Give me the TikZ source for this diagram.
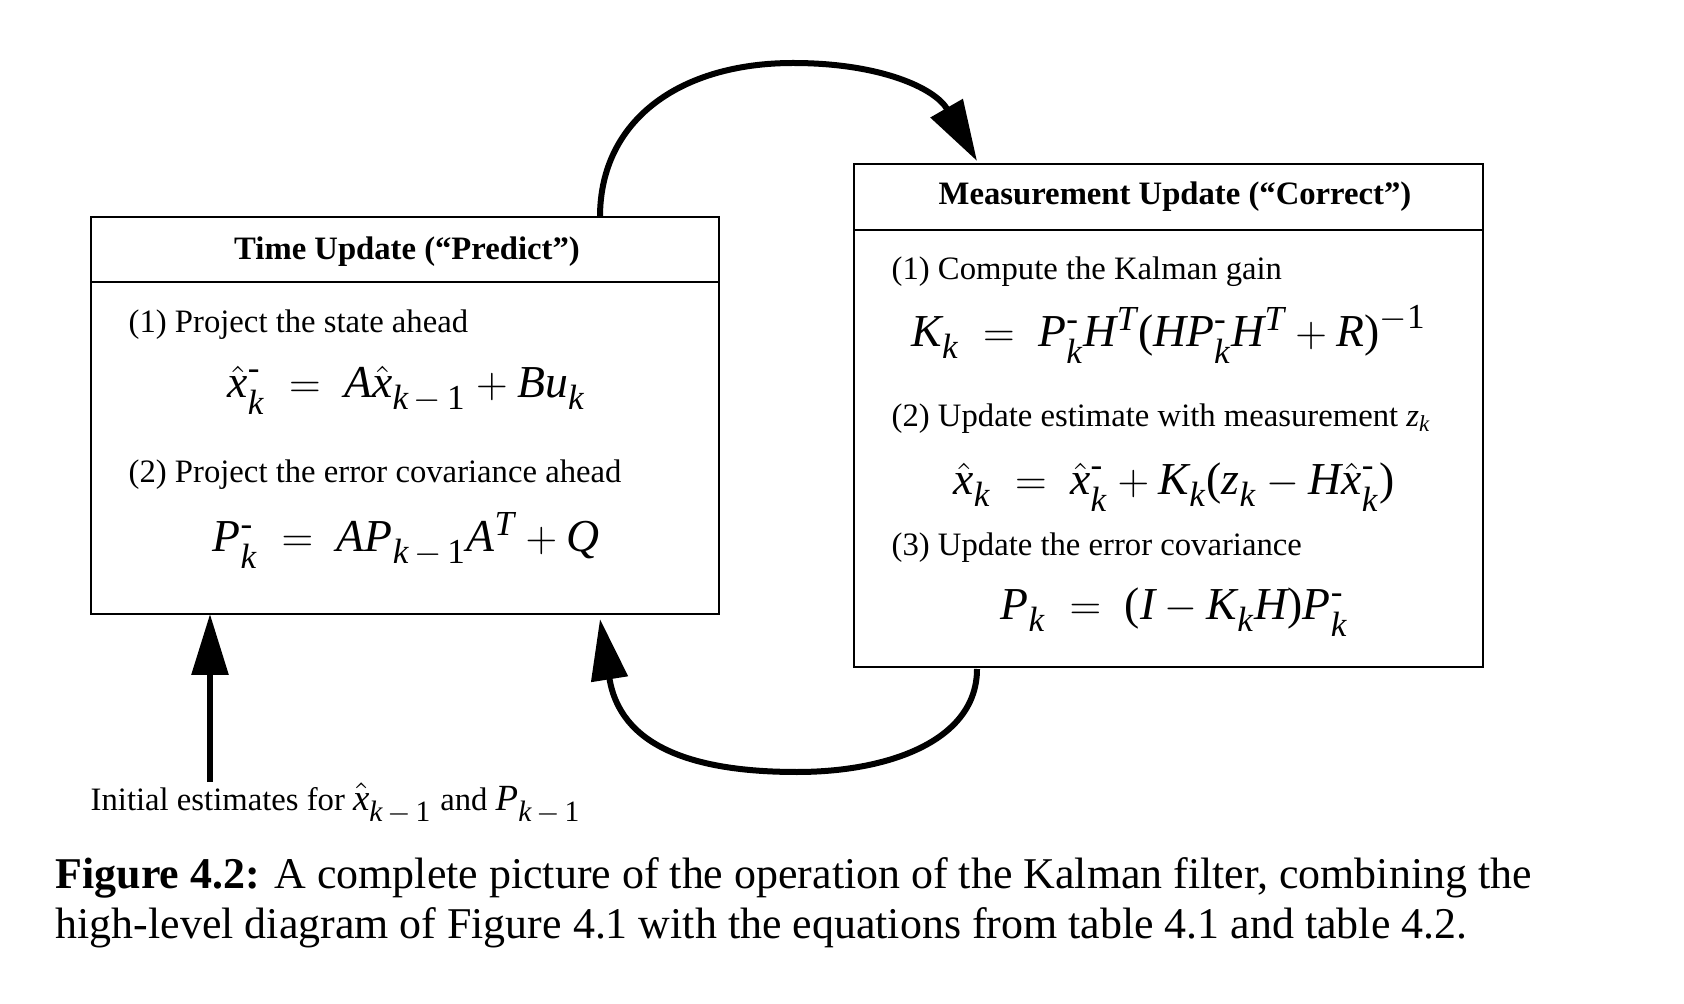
\documentclass[tikz,border=0pt]{standalone}
\usepackage{amsmath}
\usepackage{fontspec}
\setmainfont{Liberation Serif}
\usetikzlibrary{arrows.meta,calc}
\DeclareMathSizes{13}{13}{10}{8}
\DeclareMathSizes{10.5}{10.5}{8.4}{6}
\newcommand\mv[1]{\text{\normalfont\itshape #1}}
\newcommand\mn[1]{\text{\normalfont #1}}
\newcommand\sm{\text{\normalfont -}}
\newcommand\dsub[1]{_{\lower1.6pt\hbox{$\scriptstyle #1$}}}
\newcommand\km{\mv{k}\,{-}\,\mn{1}}
\begin{document}
\begin{tikzpicture}[x=0.1mm,y=-0.1mm,
  boxstyle/.style={draw, line width=0.2mm, inner sep=0pt, outer sep=0pt},
  txt/.style={anchor=base west, inner sep=0pt, font=\fontsize{9.3}{11}\selectfont},
  hdr/.style={anchor=base, inner sep=0pt, font=\fontsize{9.3}{11}\selectfont\bfseries},
  eqn/.style={anchor=base west, inner sep=0pt, font=\fontsize{13}{15}\selectfont},
  captxt/.style={anchor=base west, inner sep=0pt, font=\fontsize{12.5}{14}\selectfont},
  flow/.style={line width=0.6mm, -{Triangle[length=6.1mm, width=3.6mm]}}]
\useasboundingbox (0,0) rectangle (1684,1004);

% boxes
\node[boxstyle, minimum width=62.8mm, minimum height=39.7mm] (tu) at (405,415.5) {};
\node[boxstyle, minimum width=62.9mm, minimum height=50.3mm] (mu) at (1168.5,415.5) {};
\draw[line width=0.2mm] ($(tu.north west)+(0,65)$) -- ($(tu.north east)+(0,65)$);
\draw[line width=0.2mm] ($(mu.north west)+(0,66)$) -- ($(mu.north east)+(0,66)$);

% time update
\node[hdr] (tuh) at (407,260) {Time Update (“Predict”)};
\node[txt] (t1) at (128,333) {(1) Project the state ahead};
\node[eqn] (e1) at (227,398) {$\hat{\mv{x}}^{\sm}\dsub{\mv{k}} \;=\; \mv{A}\hat{\mv{x}}\dsub{\km} + \mv{B}\mv{u}\dsub{\mv{k}}$};
\node[txt] (t2) at (128,483) {(2) Project the error covariance ahead};
\node[eqn] (e2) at (212,552) {$\mv{P}^{\sm}\dsub{\mv{k}} \;=\; \mv{A}\mv{P}\dsub{\km}\mv{A}^{\mv{T}} + \mv{Q}$};

% measurement update
\node[hdr] (muh) at (1175,205) {Measurement Update (“Correct”)};
\node[txt] (m1) at (891,280) {(1) Compute the Kalman gain};
\node[eqn] (e3) at (911,347) {$\mv{K}\dsub{\mv{k}} \;=\; \mv{P}^{\sm}\dsub{\mv{k}}\mv{H}^{\mv{T}}\mn{(}\mv{H}\mv{P}^{\sm}\dsub{\mv{k}}\mv{H}^{\mv{T}} + \mv{R}\mn{)}^{-\mn{1}}$};
\node[txt] (m2) at (891,427) {(2) Update estimate with measurement $\mv{z}_{\mv{k}}$};
\node[eqn] (e4) at (953,495) {$\hat{\mv{x}}\dsub{\mv{k}} \;=\; \hat{\mv{x}}^{\sm}\dsub{\mv{k}} + \mv{K}\dsub{\mv{k}}\mn{(}\mv{z}\dsub{\mv{k}} - \mv{H}\hat{\mv{x}}^{\sm}\dsub{\mv{k}}\mn{)}$};
\node[txt] (m3) at (891,555) {(3) Update the error covariance};
\node[eqn] (e5) at (1000,620) {$\mv{P}\dsub{\mv{k}} \;=\; \mn{(}\mv{I} - \mv{K}\dsub{\mv{k}}\mv{H}\mn{)}\mv{P}^{\sm}\dsub{\mv{k}}$};

% initial estimates
\node[txt] (init) at (90,810) {Initial estimates for {\fontsize{10.5}{12}\selectfont$\hat{\mv{x}}\dsub{\km}$} and {\fontsize{10.5}{12}\selectfont$\mv{P}\dsub{\km}$}};
\coordinate (upx) at (210,0);
\draw[flow] (init.north -| upx) -- (tu.south -| upx);

% loop arrows
\draw[flow] ($(tu.north west)+(509,0)$) .. controls +(0,-97) and (680,63) .. (793,63)
  .. controls (880,63) and (935,88) .. ($(mu.north west)+(123,-3)$);
\draw[flow] ($(mu.south west)+(123,2)$) .. controls +(0,71) and (890,772) .. (797,772)
  .. controls (690,772) and (620,745) .. ($(tu.south west)+(509,5)$);

% caption
\node[captxt] (c1) at (55,888) {\textbf{Figure 4.2:} A complete picture of the operation of the Kalman filter, combining the};
\node[captxt] (c2) at (55,938) {high-level diagram of Figure 4.1 with the equations from table 4.1 and table 4.2.};
\end{tikzpicture}
\end{document}
